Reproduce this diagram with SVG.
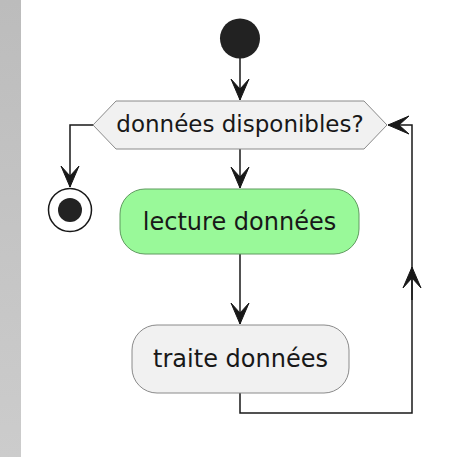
<svg xmlns="http://www.w3.org/2000/svg" width="451" height="457" viewBox="0 0 451 457">
  <defs>
    <linearGradient id="sidebar" x1="0" y1="0" x2="0" y2="1">
      <stop offset="0" stop-color="#bcbcbc"/>
      <stop offset="1" stop-color="#cccccc"/>
    </linearGradient>
    <marker id="arrow" markerUnits="userSpaceOnUse" markerWidth="24" markerHeight="22" viewBox="-22 -11 24 22" refX="0" refY="0" orient="auto">
      <path d="M0,0 L-21,-9 L-11,0 L-21,9 Z" fill="#181818" stroke="#181818" stroke-width="1" stroke-linejoin="miter"/>
    </marker>
    <style>
      .edge { fill: none; stroke: #181818; stroke-width: 1.5; }
      .label { font-family: "DejaVu Sans", "Liberation Sans", sans-serif; fill: #181818; text-anchor: middle; }
      .act { stroke-width: 1; }
    </style>
  </defs>

  <rect x="0" y="0" width="451" height="457" fill="#ffffff"/>
  <rect x="0" y="0" width="21" height="457" fill="url(#sidebar)"/>

  <g id="connectors">
    <path class="edge" d="M240,58 L240,100" marker-end="url(#arrow)"/>
    <path class="edge" d="M93,125 L70,125 L70,187" marker-end="url(#arrow)"/>
    <path class="edge" d="M240,149 L240,188" marker-end="url(#arrow)"/>
    <path class="edge" d="M240,254 L240,324" marker-end="url(#arrow)"/>
    <path class="edge" d="M240,393 L240,413 L412,413 L412,125 L388,125" marker-end="url(#arrow)"/>
    <path class="edge" d="M412,300 L412,267" marker-end="url(#arrow)"/>
  </g>

  <g id="start">
    <circle cx="240" cy="38.5" r="20" fill="#222222"/>
  </g>

  <g id="decision">
    <polygon points="93,125 116,101 364,101 387,125 364,149 116,149" fill="#f1f1f1" stroke="#8a8a8a" stroke-width="1"/>
    <text class="label" x="240" y="132" font-size="23">données disponibles?</text>
  </g>

  <g id="stop">
    <circle cx="70" cy="210" r="21.5" fill="#ffffff" stroke="#181818" stroke-width="1.5"/>
    <circle cx="70" cy="210" r="12" fill="#222222"/>
  </g>

  <g id="lecture">
    <rect class="act" x="120" y="189" width="239" height="65" rx="25" ry="25" fill="#99f999" stroke="#5f9a5f"/>
    <text class="label" x="239.5" y="229.5" font-size="24">lecture données</text>
  </g>

  <g id="traite">
    <rect class="act" x="132" y="325" width="217" height="68" rx="25" ry="25" fill="#f1f1f1" stroke="#8a8a8a"/>
    <text class="label" x="240.5" y="367" font-size="24">traite données</text>
  </g>
</svg>
